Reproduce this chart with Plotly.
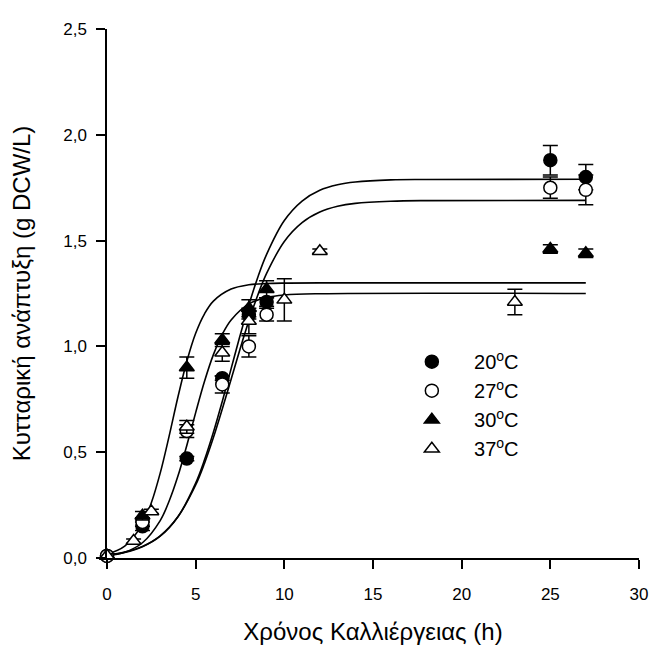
import plotly.graph_objects as go

# ---- measured data ----
t_20 = [0, 2, 4.5, 6.5, 8, 9, 25, 27]
y_20 = [0.01, 0.15, 0.47, 0.85, 1.15, 1.21, 1.88, 1.80]
e_20 = [0.01, 0.02, 0.01, 0.01, 0.02, 0.02, 0.07, 0.06]

t_27 = [0, 2, 4.5, 6.5, 8, 9, 25, 27]
y_27 = [0.01, 0.17, 0.60, 0.82, 1.00, 1.15, 1.75, 1.74]
e_27 = [0.01, 0.02, 0.03, 0.04, 0.05, 0.03, 0.05, 0.07]

t_30 = [0, 2, 4.5, 6.5, 8, 9, 25, 27]
y_30 = [0.01, 0.20, 0.90, 1.03, 1.18, 1.27, 1.46, 1.44]
e_30 = [0.01, 0.02, 0.05, 0.03, 0.04, 0.04, 0.02, 0.02]

t_37 = [0, 1.5, 2.5, 4.5, 6.5, 8, 10, 12, 23]
y_37 = [0.01, 0.08, 0.22, 0.62, 0.97, 1.12, 1.22, 1.45, 1.21]
e_37 = [0.01, 0.01, 0.01, 0.03, 0.04, 0.06, 0.10, 0.01, 0.06]

# ---- fitted growth curves ----
ct_a = [0, 1, 2, 2.5, 3, 3.5, 4, 4.5, 5, 5.5, 6, 7, 8, 9, 10, 12, 27]
cy_a = [0.018, 0.056, 0.161, 0.261, 0.401, 0.575, 0.761, 0.929, 1.062, 1.154,
        1.214, 1.271, 1.291, 1.297, 1.299, 1.30, 1.30]

ct_b = [0, 1, 2, 3, 3.5, 4, 4.5, 5, 5.5, 6, 6.5, 7, 8, 9, 10, 12, 27]
cy_b = [0.010, 0.027, 0.072, 0.177, 0.268, 0.387, 0.532, 0.687, 0.835, 0.961,
        1.057, 1.125, 1.201, 1.231, 1.243, 1.249, 1.25]

ct_c = [0, 1, 2, 3, 4, 5, 5.5, 6, 6.5, 7, 7.5, 8, 8.5, 9, 10, 11, 12, 13, 14, 16, 18, 27]
cy_c = [0.013, 0.026, 0.053, 0.103, 0.195, 0.354, 0.464, 0.594, 0.740, 0.895, 1.050,
        1.196, 1.326, 1.435, 1.595, 1.687, 1.738, 1.764, 1.777, 1.787, 1.789, 1.79]

ct_d = [0, 1, 2, 3, 4, 5, 5.5, 6, 6.5, 7, 7.5, 8, 8.5, 9, 10, 11, 12, 13, 14, 16, 18, 27]
cy_d = [0.014, 0.028, 0.055, 0.105, 0.195, 0.345, 0.448, 0.569, 0.704, 0.845, 0.987,
        1.121, 1.242, 1.345, 1.496, 1.585, 1.635, 1.662, 1.676, 1.686, 1.689, 1.69]

pad = "\u00a0" * 4
labels = [pad + "20<sup>o</sup>C", pad + "27<sup>o</sup>C",
          pad + "30<sup>o</sup>C", pad + "37<sup>o</sup>C"]

fig = go.Figure()

for ct, cy in [(ct_a, cy_a), (ct_b, cy_b), (ct_c, cy_c), (ct_d, cy_d)]:
    fig.add_trace(go.Scatter(x=ct, y=cy, mode="lines", showlegend=False,
                             line=dict(color="black", width=1.6, shape="spline", smoothing=1.0),
                             hoverinfo="skip", cliponaxis=False))

series = [
    (t_20, y_20, e_20, "circle", "black"),
    (t_27, y_27, e_27, "circle", "white"),
    (t_30, y_30, e_30, "triangle-up", "black"),
    (t_37, y_37, e_37, "triangle-up", "white"),
]
for (t, y, e, sym, fc), lab in zip(series, labels):
    fig.add_trace(go.Scatter(
        x=t, y=y, mode="markers", name=lab, cliponaxis=False,
        marker=dict(symbol=sym, size=13, color=fc,
                    line=dict(color="black", width=1.5)),
        error_y=dict(type="data", array=e, visible=True, color="black",
                     thickness=1.5, width=7.5),
    ))

font_family = "Liberation Sans, Arial, sans-serif"
fig.update_layout(
    width=652, height=645,
    margin=dict(l=95, r=13, t=14, b=89),
    paper_bgcolor="white", plot_bgcolor="white",
    separators=", ",
    font=dict(family=font_family, size=17, color="black"),
    showlegend=True,
    legend=dict(x=0.573, y=0.408, xanchor="left", yanchor="top",
                bgcolor="rgba(0,0,0,0)", font=dict(size=20), tracegroupgap=0),
    xaxis=dict(range=[0, 30], tickmode="array", tickvals=[0, 5, 10, 15, 20, 25, 30],
               showline=True, linecolor="black", linewidth=1.5, ticks="outside",
               ticklen=9, tickwidth=1.5, tickcolor="black", showgrid=False, zeroline=False,
               ticklabelstandoff=11,
               title=dict(text="Χρόνος Καλλιέργειας (h)", font=dict(size=24), standoff=20),
               tickfont=dict(size=17)),
    yaxis=dict(range=[0, 2.5], tickmode="array", tickvals=[0, 0.5, 1, 1.5, 2, 2.5],
               tickformat=".1f",
               showline=True, linecolor="black", linewidth=1.5, ticks="outside",
               ticklen=9, tickwidth=1.5, tickcolor="black", showgrid=False, zeroline=False,
               ticklabelstandoff=6,
               title=dict(text="Κυτταρική ανάπτυξη (g DCW/L)", font=dict(size=24), standoff=26),
               tickfont=dict(size=17)),
)

fig.write_html("out.html")
